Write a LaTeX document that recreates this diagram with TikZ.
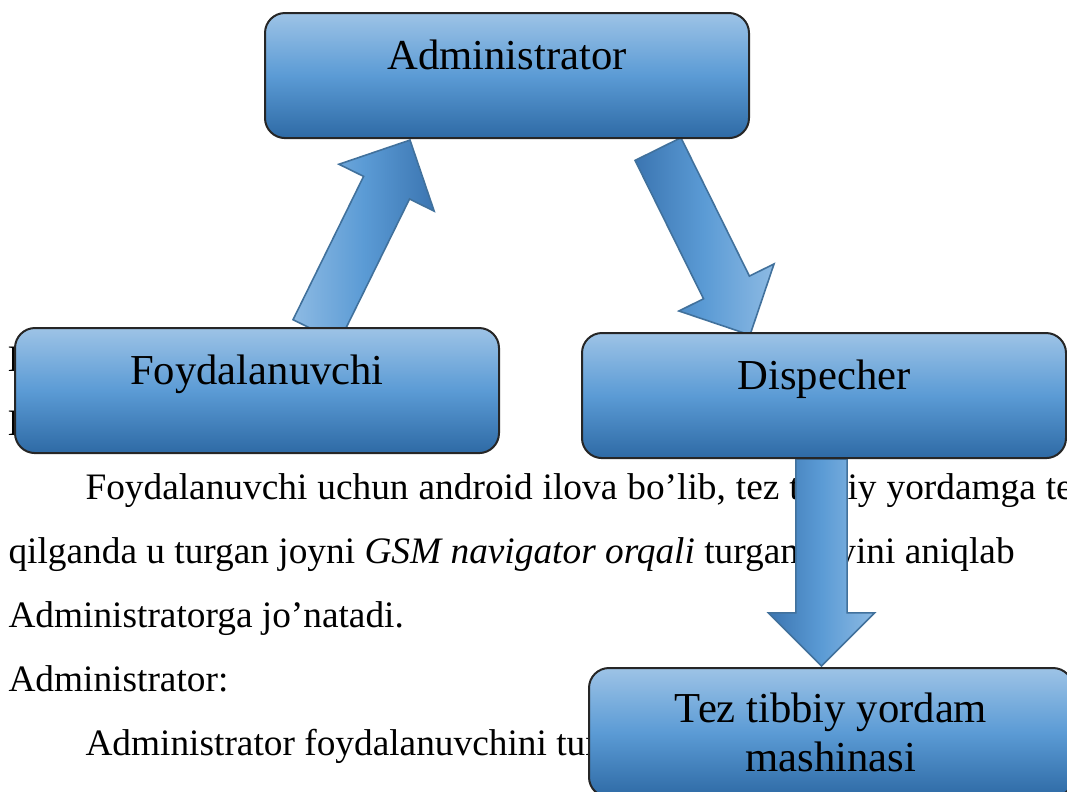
\documentclass[tikz,border=0pt]{standalone}
\usepackage{fontspec}
\setmainfont{Liberation Serif}
\usetikzlibrary{calc,backgrounds}

\definecolor{boxtop}{HTML}{9DC3E6}
\definecolor{boxmid}{HTML}{5B9BD5}
\definecolor{boxbot}{HTML}{2E6AA5}
\definecolor{arrlight}{HTML}{8DBAE3}
\definecolor{arrdark}{HTML}{3B75B1}
\definecolor{arredge}{HTML}{41719C}

% wide block arrow from #2 (tail middle) to #3 (tip)
\newcommand{\fatarrow}[3]{%
  \coordinate (hb) at ($(#3)!19.9pt!(#2)$);
  \draw[fat,#1] ($(#2)!9.6pt!90:(#3)$) -- ($(hb)!9.6pt!90:(#3)$)
    -- ($(hb)!19.9pt!90:(#3)$) -- (#3) -- ($(hb)!19.9pt!-90:(#3)$)
    -- ($(hb)!9.6pt!-90:(#3)$) -- ($(#2)!9.6pt!-90:(#3)$) -- cycle;}

\begin{document}
\begin{tikzpicture}[x=0.375pt,y=-0.375pt,
    box/.style={draw=black!85,line width=0.75pt,rounded corners=7.5pt,
      top color=boxtop,bottom color=boxbot,middle color=boxmid,
      minimum width=181.5pt,inner xsep=0pt,inner ysep=0pt,outer sep=0pt,
      text height=21pt,text depth=25.9pt,anchor=north,
      font=\fontsize{16}{18.4}\selectfont},
    fat/.style={draw=arredge,line width=0.6pt},
    para/.style={anchor=base west,inner sep=0pt,font=\fontsize{14}{24}\selectfont}]
    \useasboundingbox (0,0) rectangle (1067,791);
    \clip (0,0) rectangle (1067,791);

    \node[box] (adm) at (507,13) {Administrator};
    \node[box] (foy) at (257,328) {Foydalanuvchi};
    \node[box] (dis) at (824,333) {Dispecher};
    \node[box,align=center,text height={},text depth={},minimum height=48.4pt] (tez) at (831,668) {Tez tibbiy yordam\\mashinasi};

    \coordinate (up1) at ($(foy.north)+(59,3)$);
    \coordinate (up2) at ($(adm.south)+(-97,2)$);
    \coordinate (dn1) at ($(adm.south)+(151,11)$);
    \coordinate (dn2) at ($(dis.north)+(-74,2)$);
    \coordinate (ds1) at ($(dis.south)+(-2.5,1)$);
    \coordinate (ds2) at ($(tez.north)+(-9.5,-2)$);

    \begin{pgfonlayer}{background}
    \begin{scope}
        \clip (0,0) rectangle (1067,791);
        % text of the page behind the diagram
        \node[para] (l0) at (7,371) {I};
        \node[para] (l1) at (7,435) {I};
        \node[para] (l2) at (85,499) {\spaceskip=3.75pt Foydalanuvchi uchun android ilova bo’lib, tez tibbiy yordamga tel};
        \node[para] (l3) at (8,563) {qilganda u turgan joyni \textit{GSM navigator orqali} turgan joyini aniqlab};
        \node[para] (l4) at (8,627) {Administratorga jo’natadi.};
        \node[para] (l5) at (8,691) {Administrator:};
        \node[para] (l6) at (85,755) {Administrator foydalanuvchini turgan};

        \fatarrow{left color=arrlight,right color=arrdark,middle color=boxmid}{up1}{up2}
        \fatarrow{left color=arrdark,right color=arrlight,middle color=boxmid}{dn1}{dn2}
        \fatarrow{left color=arrdark,right color=arrlight,middle color=boxmid}{ds1}{ds2}
    \end{scope}
    \end{pgfonlayer}
\end{tikzpicture}
\end{document}
